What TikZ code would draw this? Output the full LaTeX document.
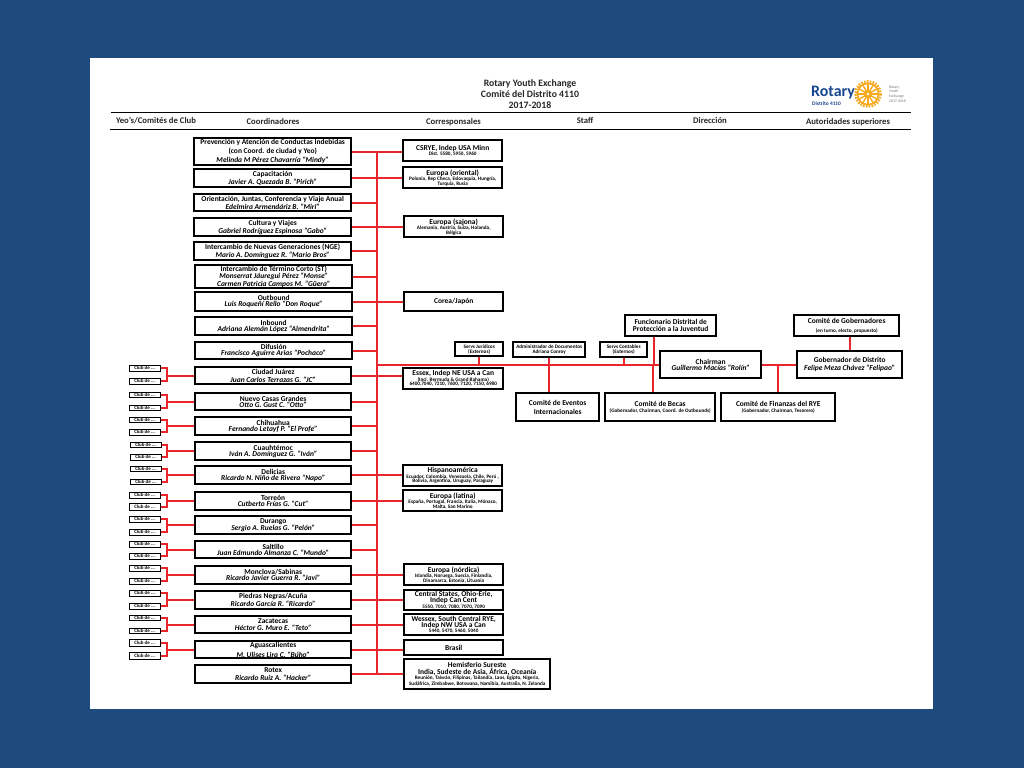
\documentclass[tikz,border=0pt]{standalone}
\usepackage{fontspec}
\setmainfont{Carlito}
\definecolor{navy}{HTML}{1F4A7E}
\definecolor{linkred}{HTML}{E8262C}
\definecolor{rotblue}{HTML}{17458F}
\definecolor{rotgold}{HTML}{F7A81B}
\newcommand{\nm}[1]{{\fontsize{7.5}{7.5}\selectfont\bfseries #1}}
\newcommand{\pe}[1]{{\fontsize{7.5}{7.5}\selectfont\itshape\bfseries #1}}
\newcommand{\smt}[1]{{\fontsize{5.2}{5.2}\selectfont\bfseries #1}}
% name, x1, y1, x2, y2, extra, text
\newcommand{\bx}[7]{%
  \pgfmathsetmacro{\cxx}{(#2+#4)/2+0.2}\pgfmathsetmacro{\cyy}{(#3+#5)/2+0.2}%
  \pgfmathsetmacro{\wdd}{#4-#2}\pgfmathsetmacro{\htt}{#5-#3}%
  \node[orgbox,#6,minimum width=\wdd bp,minimum height=\htt bp] (#1) at (\cxx,\cyy) {#7};}
% pair of club boxes + bracket for coordinator #1
\newcommand{\clubs}[6]{%
  \bx{#1a}{#2}{#3}{#2+31}{#4}{clubbox}{Club de ...}
  \bx{#1b}{#2}{#5}{#2+31}{#6}{clubbox}{Club de ...}
  \coordinate (#1k) at (166.7,0);
  \draw[link] (#1a.east) -| (#1k |- #1.west) |- (#1b.east);
  \draw[link] (#1.west) -- (#1k |- #1.west);}
\tikzset{
  orgbox/.style={draw=black,line width=1.6pt,fill=white,inner sep=0pt,align=center,text=black,font=\fontsize{6}{6.4}\selectfont},
  clubbox/.style={line width=1pt,font=\fontsize{5}{5}\selectfont\bfseries},
  link/.style={draw=linkred,line width=1.8pt},
  hdr/.style={inner sep=0pt,anchor=base,font=\fontsize{8.7}{9}\selectfont\bfseries,text=black!85},
  rule/.style={draw=black,line width=1pt}
}
\begin{document}
\begin{tikzpicture}[x=1bp,y=-1bp]
\useasboundingbox (0,0) rectangle (1024,768);
\fill[navy] (0,0) rectangle (1024,768);
\fill[white] (90,58) rectangle (933,709);
% header
\node[inner sep=0pt,align=center,font=\fontsize{9.8}{11.2}\selectfont\bfseries,text=black!85] (title) at (530,94) {Rotary Youth Exchange\\Comité del Distrito 4110\\2017-2018};
\coordinate (ra) at (111,112); \coordinate (rb) at (911,112);
\coordinate (rc) at (110,129); \coordinate (rd) at (911,129);
\draw[rule] (ra) -- (rb);
\draw[rule] (rc) -- (rd);
\node[hdr] (h1) at (156,123.5) {Yeo's/Comités de Club};
\node[hdr] (h2) at (273,124) {Coordinadores};
\node[hdr] (h3) at (453.5,124) {Corresponsales};
\node[hdr] (h4) at (585,123.5) {Staff};
\node[hdr] (h5) at (710,123.5) {Dirección};
\node[hdr] (h6) at (848,124) {Autoridades superiores};
% logo
\node[inner sep=0pt,anchor=west,text=rotblue,font=\fontsize{16}{16}\selectfont\bfseries] (lg) at (811,93) {Rotary};
\node[inner sep=0pt,anchor=west,text=rotblue,font=\fontsize{5.4}{5.4}\selectfont\bfseries] (lg2) at (812,104) {Distrito 4110};
\coordinate (wh) at (868,94);
\draw[rotgold,line width=2.6pt,dash pattern=on 1.6pt off 1.3pt] (wh) circle (12.6);
\draw[rotgold,line width=1.6pt] (wh) circle (10.6);
\foreach \a in {0,30,...,150} \draw[rotgold,line width=1.4pt] (wh) ++(\a:10) -- ++(\a+180:20);
\fill[rotgold] (wh) circle (4);
\fill[white] (wh) circle (1.3);
\node[inner sep=0pt,align=left,anchor=west,text=black!55,font=\fontsize{3.8}{4.6}\selectfont] (lg3) at (889,94) {Rotary\\Youth\\Exchange\\2017-2018};
% coordinators
\bx{c1}{194}{138}{351}{165}{}{\nm{Prevención y Atención de Conductas Indebidas}\\[1.2pt]\nm{(con Coord. de ciudad y Yeo)}\\[1.2pt]\pe{Melinda M Pérez Chavarría ``Mindy''}}
\bx{c2}{194}{169}{351}{187}{}{\nm{Capacitación}\\\pe{Javier A. Quezada B. ``Pirich''}}
\bx{c3}{194}{194}{351}{211}{}{\nm{Orientación, Juntas, Conferencia y Viaje Anual}\\[0.8pt]\pe{Edelmira Armendáriz B. ``Miri''}}
\bx{c4}{194}{218}{351}{236}{}{\nm{Cultura y Viajes}\\[0.5pt]\pe{Gabriel Rodríguez  Espinosa ``Gabo''}}
\bx{c5}{194}{242}{351}{260}{}{\nm{Intercambio de Nuevas Generaciones (NGE)}\\\pe{Mario A. Domínguez R. ``Mario Bros''}}
\bx{c6}{195}{265}{352}{288}{}{\nm{Intercambio de Término Corto (ST)}\\[-0.3pt]\pe{Monserrat Jáuregui  Pérez ``Monse''}\\[-0.3pt]\pe{Carmen Patricia Campos M. ``Güera''}}
\bx{c7}{195}{292}{352}{311}{}{\nm{Outbound}\\\pe{Luis Roqueñí  Rello ``Don Roque''}}
\bx{c8}{195}{317}{352}{335}{}{\nm{Inbound}\\\pe{Adriana Alemán López ``Almendrita''}}
\bx{c9}{195}{342}{352}{359}{}{\nm{Difusión}\\\pe{Francisco Aguirre Arias ``Pochaco''}}
\bx{c10}{195}{367}{351}{384}{}{\nm{Ciudad Juárez}\\[1.3pt]\pe{Juan Carlos Terrazas G. ``JC''}}
\bx{c11}{195}{393}{351}{410}{}{\nm{Nuevo Casas Grandes}\\\pe{Otto G. Gust C. ``Otto''}}
\bx{c12}{195}{417}{351}{435}{}{\nm{Chihuahua}\\\pe{Fernando Letayf  P. ``El Profe''}}
\bx{c13}{195}{442}{351}{460}{}{\nm{Cuauhtémoc}\\\pe{Iván A. Domínguez G. ``Iván''}}
\bx{c14}{195}{466}{351}{484}{}{\nm{Delicias}\\\pe{Ricardo N. Niño de Rivera ``Napo''}}
\bx{c15}{195}{492}{351}{510}{}{\nm{Torreón}\\\pe{Cutberto Frías G. ``Cut''}}
\bx{c16}{195}{516}{351}{534}{}{\nm{Durango}\\\pe{Sergio A. Ruelas G. ``Pelón''}}
\bx{c17}{195}{541}{351}{558}{}{\nm{Saltillo}\\\pe{Juan Edmundo Almanza C. ``Mundo''}}
\bx{c18}{195}{566}{351}{584}{}{\nm{Monclova/Sabinas}\\\pe{Ricardo Javier Guerra R. ``Javi''}}
\bx{c19}{195}{591}{351}{609}{}{\nm{Piedras Negras/Acuña}\\\pe{Ricardo García R. ``Ricardo''}}
\bx{c20}{195}{616}{351}{633}{}{\nm{Zacatecas}\\\pe{Héctor G. Muro E. ``Teto''}}
\bx{c21}{195}{641}{351}{658}{}{\nm{Aguascalientes}\\[2pt]\pe{M. Ulises Lira C. ``Búho''}}
\bx{c22}{195}{665}{351}{683}{}{\nm{Rotex}\\[1.6pt]\pe{Ricardo Ruiz A. ``Hacker''}}
% correspondents
\bx{r1}{403}{140}{502}{161}{}{\nm{CSRYE, Indep USA Minn}\\[-1pt]\smt{Dist. 5580, 5950, 5960}}
\bx{r2}{403}{167}{502}{188}{}{\nm{Europa (oriental)}\\[-1pt]\smt{Polonia, Rep Checa, Eslovaquia, Hungría,}\\[-1.8pt]\smt{Turquía, Rusia}}
\bx{r4}{404}{216}{503}{237}{}{\nm{Europa (sajona)}\\[-1pt]\smt{Alemania, Austria, Suiza, Holanda,}\\[-1.8pt]\smt{Bélgica}}
\bx{r7}{404}{292}{503}{311}{}{\nm{Corea/Japón}}
\bx{r10}{403}{368}{503}{389}{}{\nm{Essex, Indep NE USA a Can}\\[-1pt]\smt{(Incl. Bermuda \& Grand Bahama)}\\[-1.8pt]\smt{6400,7040, 7210, 7600, 7120, 7150, 6980}}
\bx{r14}{403}{465}{502}{486}{}{\nm{Hispanoamérica}\\[-1pt]\smt{Ecuador, Colombia, Venezuela, Chile, Perú ,}\\[-1.8pt]\smt{Bolivia, Argentina, Uruguay, Paraguay}}
\bx{r15}{403}{490}{502}{511}{}{\nm{Europa (latina)}\\[-1pt]\smt{España, Portugal, Francia, Italia, Mónaco,}\\[-1.8pt]\smt{Malta, San Marino}}
\bx{r18}{404}{564}{503}{585}{}{\nm{Europa (nórdica)}\\[-1pt]\smt{Islandia, Noruega, Suecia, Finlandia,}\\[-1.8pt]\smt{Dinamarca, Estonia, Lituania}}
\bx{r19}{404}{590}{503}{610}{}{\nm{Central States, Ohio-Erie,}\\\nm{Indep Can Cent}\\[-1pt]\smt{5550, 7010, 7080, 7070, 7090}}
\bx{r20}{404}{614}{503}{635}{}{\nm{Wessex, South Central RYE,}\\\nm{Indep NW USA a Can}\\[-1pt]\smt{5440, 5470, 5460, 5040}}
\bx{r21}{404}{640}{503}{655}{}{\nm{Brasil}}
\bx{r22}{404}{659}{550}{689}{line width=1.6pt}{\nm{Hemisferio Sureste}\\\nm{India, Sudeste de Asia, África, Oceanía}\\[-1pt]\smt{Reunión, Taiwán, Filipinas, Tailandia, Laos,  Egipto, Nigeria,}\\[-1pt]\smt{Sudáfrica, Zimbabwe,  Botswana, Namibia, Australia, N. Zelanda}}
% staff / direction
\bx{sj}{455}{342}{503}{356}{}{\smt{Servs Jurídicos}\\[-1.4pt]\smt{(Externos)}}
\bx{adm}{513}{342}{585}{357}{}{\smt{Administrador de Documentos}\\[-1.4pt]\smt{Adriana Conroy}}
\bx{sc}{600}{342}{647}{357}{}{\smt{Servs Contables}\\[-1.4pt]\smt{(Externos)}}
\bx{fun}{625}{315}{716}{336}{}{\nm{Funcionario Distrital de}\\[0.5pt]\nm{Protección a la Juventud}}
\bx{chair}{660}{351}{761}{378}{}{\nm{Chairman}\\\pe{Guillermo Macías ``Rolín''}}
\bx{gov}{797}{351}{902}{378}{}{\nm{Gobernador de Distrito}\\[2pt]\pe{Felipe Meza Chávez ``Felipao''}}
\bx{cg}{794}{315}{899}{336}{}{\nm{Comité de Gobernadores}\\[2pt]\smt{(en turno, electo, propuesto)}}
\bx{evt}{516}{393}{599}{421}{}{\nm{Comité de Eventos}\\[3pt]\nm{Internacionales}}
\bx{bec}{605}{393}{715}{421}{}{\nm{Comité de Becas}\\[0.4pt]\smt{(Gobernador, Chairman, Coord. de Outbounds)}}
\bx{fin}{721}{393}{835}{421}{}{\nm{Comité de Finanzas del RYE}\\[0.4pt]\smt{(Gobernador, Chairman, Tesorero)}}
% clubs
\clubs{c10}{129}{365}{371}{378}{384}
\clubs{c11}{129}{392}{397}{405}{410}
\clubs{c12}{129}{417}{422}{429}{435}
\clubs{c13}{130}{442}{447}{454}{460}
\clubs{c14}{130}{466}{471}{479}{484}
\clubs{c15}{129}{492}{498}{503}{510}
\clubs{c16}{129}{516}{522}{529}{535}
\clubs{c17}{129}{541}{547}{553}{559}
\clubs{c18}{129}{565}{571}{578}{584}
\clubs{c19}{129}{590}{596}{603}{609}
\clubs{c20}{129}{615}{620}{628}{633}
\clubs{c21}{129}{639}{646}{652}{659}
% trunk
\coordinate (tk) at (377,364.7);
\draw[link] (tk |- c1.east) -- (tk |- c22.east);
\foreach \i in {3,5,6,8,9,11,12,13,16,17}
  \draw[link] (c\i.east) -- (tk |- c\i.east);
\foreach \i in {1,2,4,7,10,14,15,18,19,20,21,22}
  \draw[link] (c\i.east) -- (c\i.east -| r\i.west);
% staff line
\draw[link] (tk) -- (tk -| chair.west);
\draw[link] (chair.east) -- (gov.west);
\draw[link] (cg.south -| gov.north) -- (gov.north);
\draw[link] (sj.south) -- (sj.south |- tk);
\draw[link] (adm.south) -- (adm.south |- evt.north);
\draw[link] (sc.south) -- (sc.south |- tk);
\coordinate (fv) at (654,364.7);
\coordinate (bv) at (653,364.7);
\draw[link] (fv |- fun.south) -- (fv);
\draw[link] (bv) -- (bv |- bec.north);
\draw[link] (fin.north) -- (fin.north |- tk);
\end{tikzpicture}
\end{document}
